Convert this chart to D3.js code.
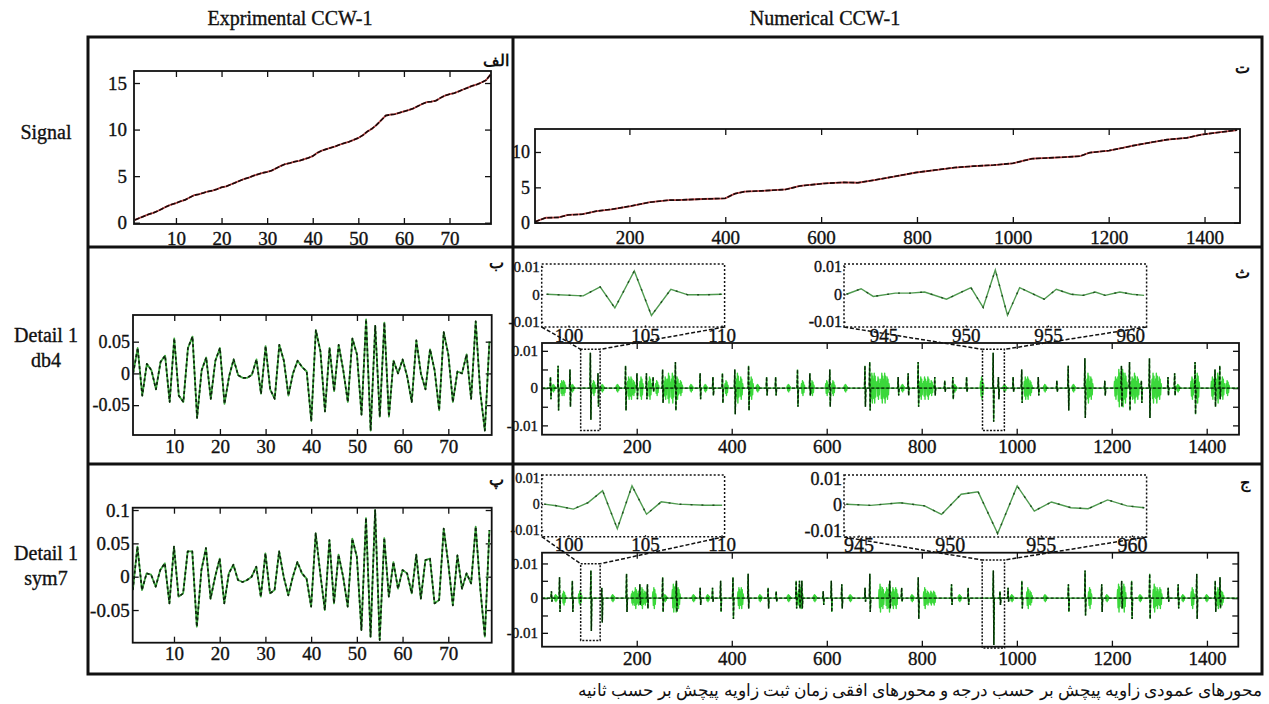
<!DOCTYPE html>
<html><head><meta charset="utf-8">
<script src="https://cdn.jsdelivr.net/npm/d3@7"></script>
<style>
body{margin:0;background:#fff;}
svg{display:block;}
text{font-family:"Liberation Serif","Times New Roman",serif;fill:#111;}
</style></head><body>
<svg id="c" width="1269" height="704"></svg>
<script>
// ---------- DATA ----------
const expSignal = [0.3,0.5,0.7,0.9,1.05,1.25,1.5,1.75,1.95,2.1,2.3,2.45,2.7,2.95,3.05,3.2,3.35,3.45,3.6,3.8,3.9,4.1,4.3,4.5,4.7,4.85,5.05,5.2,5.35,5.45,5.6,5.85,6.1,6.3,6.4,6.55,6.65,6.8,6.95,7.15,7.5,7.75,7.9,8.05,8.2,8.4,8.55,8.7,8.9,9.1,9.4,9.8,10.1,10.5,11.0,11.5,11.6,11.65,11.8,11.95,12.1,12.25,12.5,12.75,12.95,13.0,13.1,13.4,13.65,13.8,13.9,14.1,14.3,14.5,14.7,14.85,15.05,15.3,15.9];
const expDb4 = [0.0,0.04,-0.035,0.015,0.005,-0.025,0.018,0.028,-0.045,0.055,-0.035,-0.045,0.04,0.058,-0.07,0.005,0.025,-0.04,0.02,0.04,-0.048,-0.005,0.022,-0.003,-0.007,-0.007,-0.002,0.022,-0.032,0.043,-0.025,-0.04,0.045,0.02,-0.035,0.0,0.02,0.01,0.003,-0.075,0.068,0.035,-0.06,0.04,-0.028,0.045,0.005,-0.045,0.055,0.03,-0.065,0.085,-0.09,0.075,-0.068,0.08,-0.068,0.02,0.0,0.022,-0.005,-0.045,0.052,0.0,-0.025,0.038,0.005,-0.058,0.065,0.03,-0.045,0.003,0.0,0.03,-0.04,0.082,-0.03,-0.09,0.05];
const expSym7 = [-0.02,0.045,-0.02,0.005,0.003,-0.015,0.01,0.02,-0.04,0.045,-0.03,-0.025,0.038,0.038,-0.075,0.01,0.043,-0.033,0.0,0.027,-0.04,0.005,0.018,-0.005,-0.008,-0.005,0.0,0.015,-0.03,0.035,-0.025,-0.02,0.038,0.0,-0.028,0.0,0.022,0.005,-0.003,-0.045,0.065,0.005,-0.05,0.055,-0.04,0.033,0.0,-0.045,0.057,0.03,-0.08,0.088,-0.09,0.1,-0.095,0.058,-0.03,0.022,-0.018,0.01,0.005,-0.025,0.033,-0.033,0.025,0.027,-0.04,-0.035,0.072,0.02,-0.043,0.032,-0.018,0.005,-0.01,0.075,-0.018,-0.09,0.07];

const numSignalX = [3,26,52,72,102,132,163,203,243,284,299,354,400,420,440,475,526,556,607,647,677,717,758,798,838,879,919,960,1000,1040,1100,1140,1160,1201,1231,1251,1292,1322,1363,1393,1433,1468];
const numSignalY = [0.14,0.7,0.75,1.1,1.2,1.65,1.9,2.36,2.9,3.2,3.2,3.35,3.45,4.1,4.4,4.5,4.7,5.2,5.55,5.7,5.65,6.1,6.6,7.1,7.45,7.8,8.0,8.15,8.4,9.05,9.25,9.4,9.9,10.2,10.6,10.9,11.4,11.75,12.0,12.45,12.8,13.1];

const db4SpikeX  = [19,35,60,103,119,177,201,221,235,255,282,334,361,381,407,436,474,493,539,565,607,681,691,751,772,793,828,849,866,895,951,962,993,1011,1046,1085,1109,1144,1186,1221,1238,1263,1280,1319,1333,1376,1418,1428];
const db4SpikeHi = [.003,.006,.005,.0095,.004,.006,.004,.004,.003,.005,.007,.004,.003,.004,.005,.006,.003,.003,.005,.004,.005,.006,.007,.003,.004,.007,.003,.002,.003,.003,.0095,.003,.003,.005,.003,.002,.006,.008,.002,.006,.007,.002,.008,.003,.004,.007,.005,.006];
const db4SpikeLo = [-.003,-.006,-.005,-.0085,-.005,-.006,-.003,-.003,-.001,-.004,-.006,-.003,-.002,-.004,-.007,-.006,-.002,-.002,-.005,-.002,-.005,-.005,-.006,-.002,-.002,-.005,-.002,-.001,-.003,-.001,-.009,-.003,-.001,-.004,-.002,-.001,-.006,-.008,-.002,-.005,-.006,-.004,-.008,-.002,-.002,-.007,-.005,-.003];
const db4BurstX   = [25,43,47,65,110,128,160,184,189,194,210,228,243,261,268,276,286,293,315,345,389,413,420,442,455,520,550,570,601,614,640,696,701,709,717,723,728,760,799,807,814,821,870,927,975,1019,1024,1029,1060,1120,1151,1157,1209,1216,1224,1229,1244,1249,1255,1288,1295,1301,1340,1370,1381,1413,1424,1434,1444];
const db4BurstAmp = [.001,.002,.002,.001,.002,.001,.001,.003,.003,.002,.003,.003,.002,.003,.004,.004,.003,.002,.001,.001,.002,.004,.003,.003,.001,.001,.002,.002,.002,.002,.001,.004,.004,.003,.004,.004,.003,.001,.003,.003,.003,.002,.001,.003,.001,.003,.003,.002,.001,.001,.004,.003,.003,.005,.005,.004,.003,.004,.003,.004,.004,.003,.001,.003,.004,.003,.004,.003,.002];

const sym7SpikeX  = [21,38,65,104,127,179,207,223,255,284,334,360,377,403,435,477,494,536,543,548,593,610,632,681,691,733,758,793,863,898,951,965,982,1011,1109,1144,1179,1221,1242,1280,1319,1340,1379,1418,1428];
const sym7SpikeHi = [.002,.006,.005,.008,.003,.007,.004,.004,.006,.005,.003,.003,.005,.006,.007,.003,.002,.005,.005,.005,.002,.005,.004,.003,.007,.005,.003,.006,.004,.003,.008,.002,.003,.005,.004,.008,.004,.005,.005,.007,.003,.004,.007,.005,.006];
const sym7SpikeLo = [-.001,-.004,-.004,-.0095,-.007,-.004,-.002,-.003,-.004,-.004,-.002,-.001,-.004,-.006,-.003,-.003,-.001,-.003,-.003,-.003,-.002,-.004,-.003,-.001,-.004,-.003,-.001,-.006,-.002,-.002,-.0135,-.002,-.001,-.003,-.004,-.005,-.004,-.003,-.006,-.006,-.001,-.003,-.006,-.004,-.003];
const sym7BurstX   = [30,47,81,150,192,198,204,212,218,237,260,278,283,288,320,350,416,421,460,520,541,546,575,650,713,718,727,732,740,746,780,807,813,820,826,880,990,1024,1029,1060,1154,1190,1215,1226,1260,1290,1296,1302,1350,1370,1400,1424,1432];
const sym7BurstAmp = [.001,.002,.002,.001,.002,.003,.002,.003,.002,.003,.001,.004,.004,.003,.001,.001,.003,.003,.001,.001,.002,.003,.001,.001,.004,.003,.003,.004,.003,.003,.001,.003,.002,.002,.002,.001,.001,.003,.002,.001,.003,.001,.004,.004,.001,.004,.003,.003,.001,.003,.001,.003,.002];

const insetDb4AX = [98.57,100.96,102.07,103.03,104.3,105.42,106.69,107.81,108.93,110.04];
const insetDb4AY = [0,-0.0006,0.0027,-0.005,0.0085,-0.0077,0.0018,-0.0002,-0.0002,0];
const insetDb4BX = [942.75,943.64,944.38,945.72,946.61,947.5,948.83,950.32,951.06,951.8,952.54,953.28,954.77,955.51,956.4,957.14,957.88,958.48,959.37,960.11,960.85];
const insetDb4BY = [0,0.002,-0.0008,0.0004,0.0004,0.0008,-0.0018,0.0024,-0.0048,0.0088,-0.0076,0.0024,-0.0018,0.0018,0,-0.0004,0.0008,-0.0004,0.0008,0,-0.0004];
const insetSym7AX = [98.41,99.21,100.32,101.28,102.23,103.19,104.15,105.1,106.06,107.17,108.93,110.04];
const insetSym7AY = [0,-0.0006,-0.0019,0.0006,0.0052,-0.0095,0.0071,-0.0039,0.0009,0,-0.0004,-0.0004];
const insetSym7BX = [944.33,945.67,947.28,948.62,949.55,950.63,951.56,952.63,953.7,954.64,955.58,956.65,957.59,958.66,959.73,960.67];
const insetSym7BY = [0,-0.0004,0.0006,-0.0006,-0.0039,0.0039,0.0048,-0.0113,0.0071,-0.0026,0.0009,-0.0013,-0.0017,0.0017,-0.0006,-0.0013];

// zoom boxes on the main numerical plots: [x from, x to, y top, y bottom]
const db4BoxA = [82,123,0.0104,-0.0114];
const db4BoxB = [928,974,0.0104,-0.0114];
const sym7BoxA = [82,123,0.0099,-0.0122];
const sym7BoxB = [927,974,0.011,-0.0144];

const leftXTicks = [10,20,30,40,50,60,70];
const rightXTicks = [200,400,600,800,1000,1200,1400];
const sigLeftYTicks = [0,5,10,15];
const sigRightYTicks = [0,5,10];
const db4LeftYTicks = [-0.05,0,0.05];
const sym7LeftYTicks = [-0.05,0,0.05,0.1];
const detRightYTicks = [-0.01,-0.005,0,0.005,0.01];
const detRightYLabels = [-0.01,0,0.01];
const insetYTicks = [-0.01,0,0.01];
const insetAXTicks = [100,105,110];
const insetBXTicks = [945,950,955,960];

const colHeaders = ["Exprimental CCW-1","Numerical CCW-1"];
const rowLabels = [["Signal"],["Detail 1","db4"],["Detail 1","sym7"]];
const panelLetters = ["الف","ب","پ","ت","ث","ج"];
const caption = "محورهای عمودی زاویه پیچش بر حسب درجه و محورهای افقی زمان ثبت زاویه پیچش بر حسب ثانیه";

// ---------- DRAW ----------
const svg = d3.select('#c');
const defs = svg.append('defs');
let clipN = 0;
const fmt = d => d === 0 ? "0" : String(d);
const TS = 0.35; // text stroke to mimic the heavy scanned type

function panel(o){
  const x = d3.scaleLinear().domain(o.xd).range([o.x0,o.x1]);
  const y = d3.scaleLinear().domain(o.yd).range([o.y1,o.y0]);
  const id = 'cp'+(clipN++);
  defs.append('clipPath').attr('id',id).append('rect')
    .attr('x',o.x0).attr('y',o.y0).attr('width',o.x1-o.x0).attr('height',o.y1-o.y0);
  const g = svg.append('g');
  const tl = o.tl ?? 6;
  const lab = o.yLabels || o.yt;
  const style = (a, fs) => {
    a.select('.domain').remove();
    a.attr('font-family','"Liberation Serif","Times New Roman",serif').attr('font-size',fs);
    a.selectAll('line').attr('stroke','#111').attr('stroke-width',o.tw ?? 1.3)
      .attr('stroke-dasharray', o.dotted ? '1.5,1.5' : null);
    a.selectAll('text').attr('fill','#111').attr('stroke','#111').attr('stroke-width',TS);
  };
  style(g.append('g').attr('transform',`translate(0,${o.y1})`)
    .call(d3.axisBottom(x).tickValues(o.xt).tickSize(-tl).tickSizeOuter(0).tickPadding(o.xpad).tickFormat(d=>String(d))), o.xfs);
  if(!o.noTop) style(g.append('g').attr('transform',`translate(0,${o.y0})`)
    .call(d3.axisTop(x).tickValues(o.xt).tickSize(-tl).tickSizeOuter(0).tickFormat('')), o.xfs);
  style(g.append('g').attr('transform',`translate(${o.x0},0)`)
    .call(d3.axisLeft(y).tickValues(o.yt).tickSize(-tl).tickSizeOuter(0).tickPadding(o.ypad)
      .tickFormat(d => lab.some(v=>Math.abs(v-d)<1e-9) ? fmt(d) : '')), o.yfs);
  if(!o.noRight) style(g.append('g').attr('transform',`translate(${o.x1},0)`)
    .call(d3.axisRight(y).tickValues(o.yt).tickSize(-tl).tickSizeOuter(0).tickFormat('')), o.yfs);
  const plot = g.append('g').attr('clip-path',`url(#${id})`);
  const frame = () => g.append('rect').attr('x',o.x0).attr('y',o.y0).attr('width',o.x1-o.x0).attr('height',o.y1-o.y0)
    .attr('fill','none').attr('stroke','#111').attr('stroke-width',o.fw ?? 1.8)
    .attr('stroke-dasharray', o.dotted ? '2,2' : null);
  return {x,y,g,plot,frame,o};
}

function drawSignal(p, xs, ys){
  const line = d3.line().x((d,i)=>p.x(xs[i])).y((d,i)=>p.y(ys[i]));
  p.plot.append('path').attr('d',line(ys)).attr('fill','none').attr('stroke','#c04848').attr('stroke-width',1.8);
  p.plot.append('path').attr('d',line(ys)).attr('fill','none').attr('stroke','#1a0808').attr('stroke-width',1.6).attr('stroke-dasharray','5,1.5');
}
function drawDetail(p, xs, ys, w){
  const line = d3.line().x((d,i)=>p.x(xs[i])).y((d,i)=>p.y(ys[i]));
  p.plot.append('path').attr('d',line(ys)).attr('fill','none').attr('stroke','#3fa63f').attr('stroke-width',w||1.8).attr('stroke-linejoin','round');
  p.plot.append('path').attr('d',line(ys)).attr('fill','none').attr('stroke','#0c240c').attr('stroke-width',w||1.7).attr('stroke-dasharray','3,2.5').attr('stroke-linejoin','round');
}
function drawInsetLine(p, xs, ys){
  const line = d3.line().x((d,i)=>p.x(xs[i])).y((d,i)=>p.y(ys[i]));
  p.plot.append('path').attr('d',line(ys)).attr('fill','none').attr('stroke','#4f9a4f').attr('stroke-width',1.4);
  p.plot.append('path').attr('d',line(ys)).attr('fill','none').attr('stroke','#1f4f1f').attr('stroke-width',1.4).attr('stroke-dasharray','2,9');
}
function drawSpikes(p, sx, hi, lo, bx, ba){
  const pts = [[p.o.xd[0],0]];
  sx.forEach((x,i)=>{ pts.push([x-1.5,0],[x-0.5,hi[i]],[x+0.5,lo[i]],[x+1.5,0]); });
  pts.push([p.o.xd[1],0]);
  const line = d3.line().x(d=>p.x(d[0])).y(d=>p.y(d[1]));
  bx.forEach((x,i)=>{
    const a = ba[i];
    p.plot.append('path').attr('d',line([[x-4,0],[x-3,a*0.6],[x-2,-a*0.7],[x-1,a],[x,-a],[x+1,a*0.8],[x+2,-a*0.6],[x+3,a*0.4],[x+4,0]]))
      .attr('fill','none').attr('stroke','#3bd83b').attr('stroke-width',1.4).attr('stroke-linejoin','round');
  });
  p.plot.append('path').attr('d',line(pts)).attr('fill','none').attr('stroke','#1f9a1f').attr('stroke-width',1.4);
  p.plot.append('path').attr('d',line(pts)).attr('fill','none').attr('stroke','#062806').attr('stroke-width',1.4).attr('stroke-dasharray','3,2');
}
function zoomBox(main, inset, box){
  const bx0 = main.x(box[0]), bx1 = main.x(box[1]), by0 = main.y(box[2]), by1 = main.y(box[3]);
  const gg = svg.append('g').attr('fill','none').attr('stroke','#111').attr('stroke-width',1.5);
  gg.append('rect').attr('x',bx0).attr('y',by0).attr('width',bx1-bx0).attr('height',by1-by0).attr('stroke-dasharray','2,1.5');
  gg.append('line').attr('x1',inset.o.x0).attr('y1',inset.o.y1).attr('x2',bx0).attr('y2',by0).attr('stroke-dasharray','4,2');
  gg.append('line').attr('x1',inset.o.x1).attr('y1',inset.o.y1).attr('x2',bx1).attr('y2',by0).attr('stroke-dasharray','4,2');
}
const idx = expSignal.map((d,i)=>i+1);

// Row 1
const p1 = panel({x0:134,x1:491,y0:71,y1:224,xd:[0.8,79.1],yd:[-0.14,16.29],xt:leftXTicks,yt:sigLeftYTicks,xpad:8,ypad:7,xfs:19,yfs:19,tl:6});
drawSignal(p1, idx, expSignal); p1.frame();
const p2 = panel({x0:535,x1:1240,y0:129,y1:223,xd:[3,1474],yd:[-0.04,13.25],xt:rightXTicks,yt:sigRightYTicks,xpad:8,ypad:5,xfs:19,yfs:18,tl:6});
drawSignal(p2, numSignalX, numSignalY); p2.frame();

// Row 2
const p3 = panel({x0:133,x1:491.7,y0:315,y1:435,xd:[0.97,79.5],yd:[-0.097,0.092],xt:leftXTicks,yt:db4LeftYTicks,xpad:5,ypad:3,xfs:19,yfs:18,tl:6});
drawDetail(p3, idx, expDb4); p3.frame();
const p4 = panel({x0:542,x1:1239,y0:343,y1:434.7,xd:[0.6,1468],yd:[-0.0125,0.0121],xt:rightXTicks,yt:detRightYTicks,yLabels:detRightYLabels,xpad:5,ypad:4,xfs:19,yfs:15,tl:6});
drawSpikes(p4, db4SpikeX, db4SpikeHi, db4SpikeLo, db4BurstX, db4BurstAmp); p4.frame();
const i4a = panel({x0:541.7,x1:724.6,y0:264,y1:327,xd:[98.25,110.2],yd:[-0.0119,0.011],xt:insetAXTicks,yt:insetYTicks,xpad:1,ypad:2,xfs:19,yfs:15,tl:3,dotted:true,fw:1.5,noTop:true,noRight:true});
drawInsetLine(i4a, insetDb4AX, insetDb4AY); i4a.frame();
const i4b = panel({x0:844,x1:1146.6,y0:264,y1:327,xd:[942.6,961],yd:[-0.0119,0.011],xt:insetBXTicks,yt:insetYTicks,xpad:1,ypad:2,xfs:19,yfs:16,tl:3,dotted:true,fw:1.5,noTop:true,noRight:true});
drawInsetLine(i4b, insetDb4BX, insetDb4BY); i4b.frame();
zoomBox(p4, i4a, db4BoxA); zoomBox(p4, i4b, db4BoxB);

// Row 3
const p5 = panel({x0:132.7,x1:491.7,y0:507.7,y1:642.7,xd:[0.97,79.5],yd:[-0.099,0.1035],xt:leftXTicks,yt:sym7LeftYTicks,xpad:4,ypad:3,xfs:19,yfs:19,tl:6});
drawDetail(p5, idx, expSym7); p5.frame();
const p6 = panel({x0:542,x1:1238.3,y0:552.7,y1:646.7,xd:[0.6,1466],yd:[-0.014,0.0131],xt:rightXTicks,yt:detRightYTicks,yLabels:detRightYLabels,xpad:5,ypad:4,xfs:19,yfs:15,tl:6});
drawSpikes(p6, sym7SpikeX, sym7SpikeHi, sym7SpikeLo, sym7BurstX, sym7BurstAmp); p6.frame();
const i6a = panel({x0:541.7,x1:724.6,y0:475,y1:536.7,xd:[98.25,110.2],yd:[-0.0126,0.0113],xt:insetAXTicks,yt:insetYTicks,xpad:1,ypad:2,xfs:19,yfs:14,tl:3,dotted:true,fw:1.5,noTop:true,noRight:true});
drawInsetLine(i6a, insetSym7AX, insetSym7AY); i6a.frame();
const i6b = panel({x0:844,x1:1146.6,y0:475,y1:537,xd:[944.2,960.8],yd:[-0.0126,0.0113],xt:insetBXTicks,yt:insetYTicks,xpad:1,ypad:2,xfs:20,yfs:18,tl:3,dotted:true,fw:1.5,noTop:true,noRight:true});
drawInsetLine(i6b, insetSym7BX, insetSym7BY); i6b.frame();
zoomBox(p6, i6a, sym7BoxA); zoomBox(p6, i6b, sym7BoxB);

// Table grid
const grid = svg.append('g').attr('stroke','#111').attr('stroke-width',3).attr('fill','none');
grid.append('rect').attr('x',88).attr('y',37).attr('width',1262-88).attr('height',674-37);
grid.append('line').attr('x1',513).attr('x2',513).attr('y1',37).attr('y2',674);
grid.append('line').attr('x1',88).attr('x2',1262).attr('y1',247).attr('y2',247);
grid.append('line').attr('x1',88).attr('x2',1262).attr('y1',464).attr('y2',464);

// Headers and row labels
svg.append('text').attr('x',290).attr('y',25).attr('text-anchor','middle').attr('font-size',20).attr('stroke','#111').attr('stroke-width',TS).text(colHeaders[0]);
svg.append('text').attr('x',825).attr('y',25).attr('text-anchor','middle').attr('font-size',20).attr('stroke','#111').attr('stroke-width',TS).text(colHeaders[1]);
const rowY = [[139],[342,367],[560,585]];
rowLabels.forEach((lines,r)=>lines.forEach((t,k)=>{
  svg.append('text').attr('x',46).attr('y',rowY[r][k]).attr('text-anchor','middle').attr('font-size',20)
    .attr('stroke','#111').attr('stroke-width',TS).text(t);
}));

// Persian panel letters
const letterPos = [[509,66],[504,268],[504,485],[1250,73],[1250,278],[1250,488]];
panelLetters.forEach((t,i)=>{
  svg.append('text').attr('x',letterPos[i][0]).attr('y',letterPos[i][1]).attr('text-anchor','end')
    .attr('font-family','"DejaVu Sans",sans-serif').attr('font-weight','bold').attr('font-size',16).text(t);
});
svg.append('text').attr('x',1262).attr('y',696).attr('text-anchor','end')
  .attr('font-family','"DejaVu Sans",sans-serif').attr('font-size',16.5).text(caption);
</script></body></html>
